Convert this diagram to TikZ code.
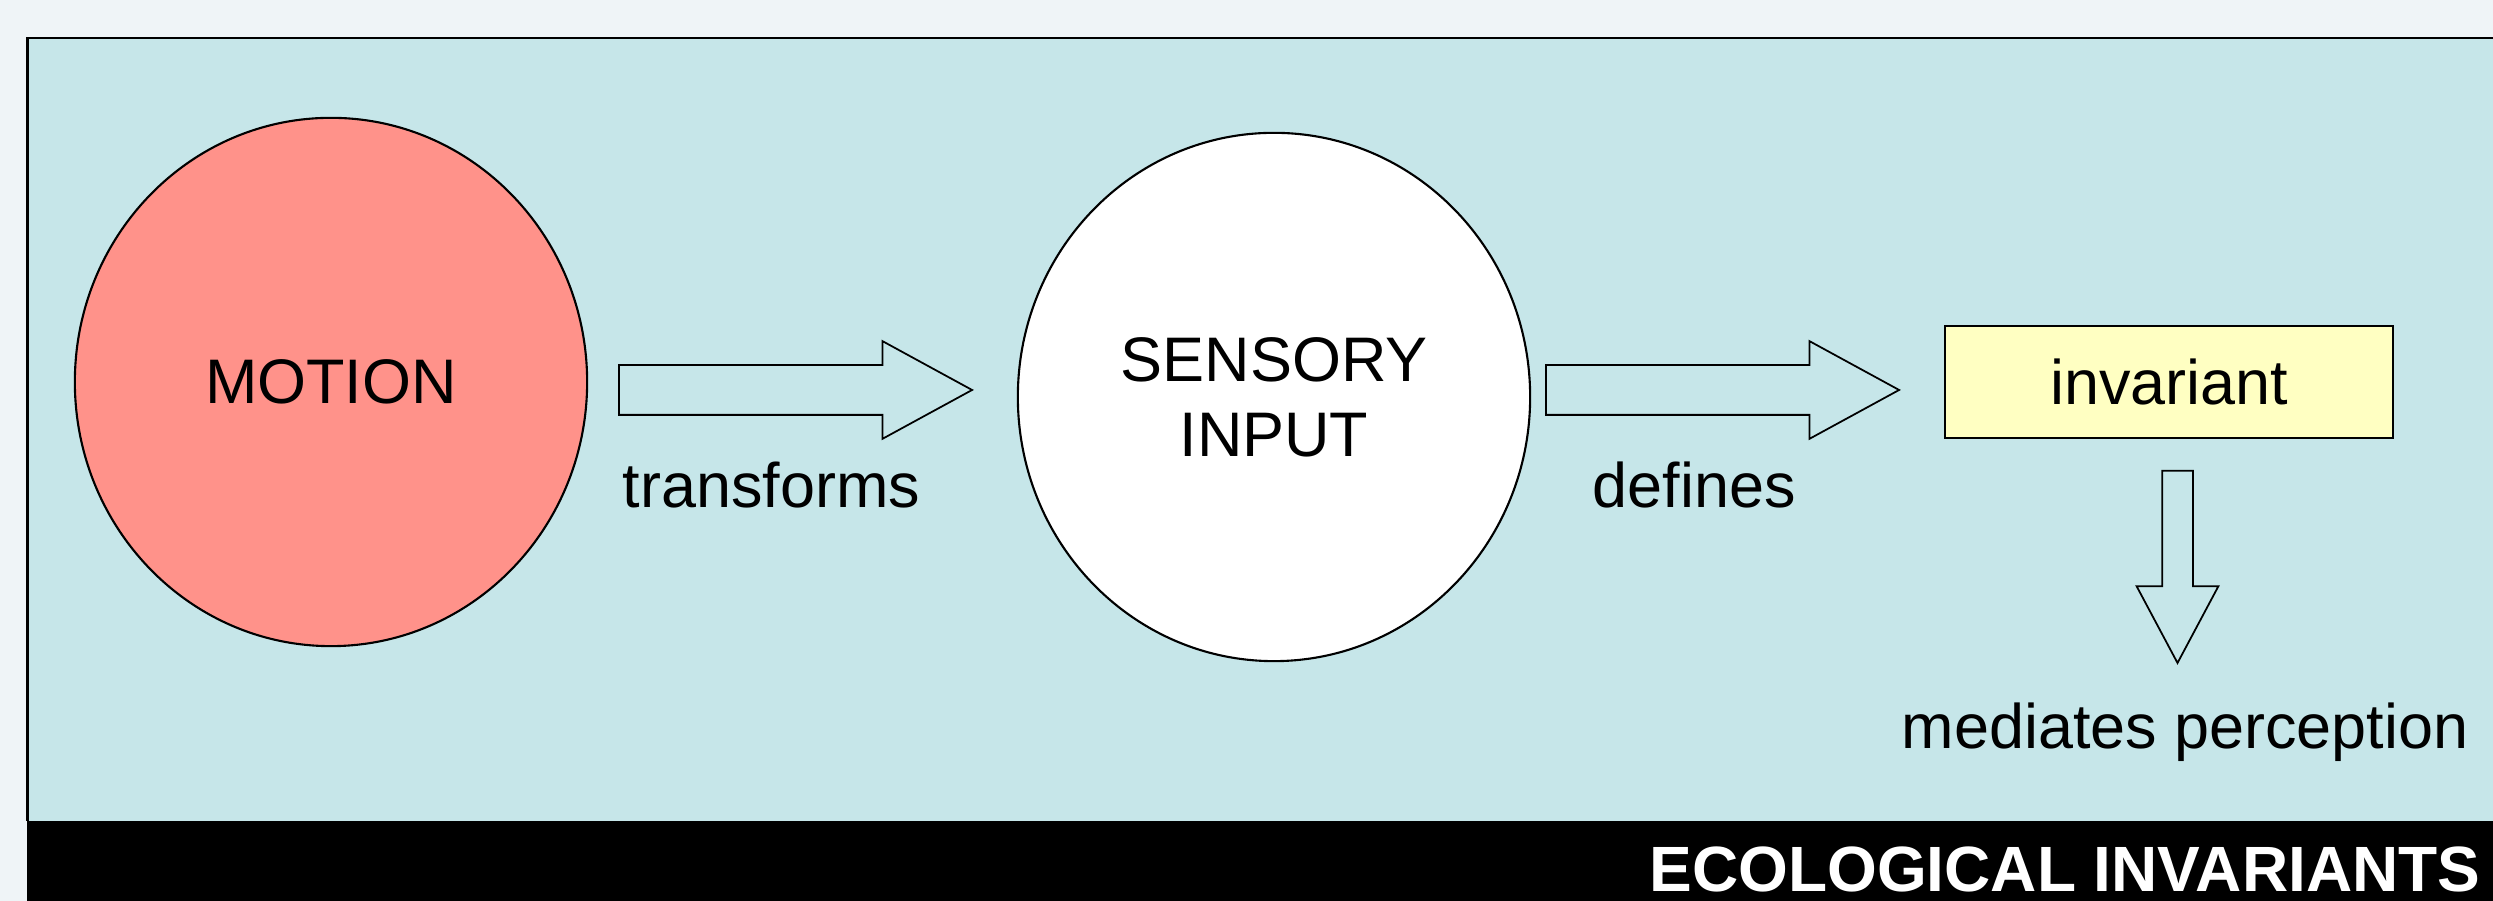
\documentclass[tikz,border=0pt]{standalone}
\usepackage{fontspec}
\setmainfont{Liberation Sans}
\usepackage{tikz}
\usetikzlibrary{positioning}
\usetikzlibrary{shapes.geometric}
\usetikzlibrary{shapes.arrows}
\usepackage{xcolor}

\definecolor{pagebg}{HTML}{EFF4F7}
\definecolor{panel}{HTML}{C6E6E9}
\definecolor{salmon}{HTML}{FF928A}
\definecolor{notepad}{HTML}{FFFFC2}

\tikzset{
    bubble/.style={ellipse, draw, line width=0.6pt, minimum width=5.12cm, minimum height=5.28cm, align=center},
    flowarrow/.style={single arrow, draw, line width=0.5pt, inner xsep=0pt, inner ysep=0.24cm, anchor=tail,
        minimum height=3.53cm, single arrow head extend=0.24cm, single arrow tip angle=57.2},
    caption/.style={anchor=base west, inner sep=0pt}
}

\begin{document}
\begin{tikzpicture}[x=0.01cm, y=0.01cm, font=\fontsize{17.9pt}{21.3pt}\selectfont]
        \useasboundingbox (0,0) rectangle (2493,901);
        \fill[pagebg] (0,0) rectangle (2493,901);
        % panel and title bar
        \fill[panel] (27.5,80) rectangle (2493,863);
        \draw[line width=0.6pt] (27.5,80) |- (2493,863);
        \fill[black] (27,0) rectangle (2493,80);
        \node[anchor=base east, inner sep=0pt, text=white, font=\fontsize{18.2pt}{21pt}\selectfont\bfseries]
            (title) at (2481,9) {ECOLOGICAL INVARIANTS};

        \node[bubble, fill=salmon] (motion) at (331,519) {MOTION};
        \node[bubble, fill=white] (sensory) at (1274,504) {SENSORY\\INPUT};
        \node[draw, line width=0.5pt, fill=notepad, minimum width=4.48cm, minimum height=1.12cm]
            (invariant) at (2169,519) {invariant};

        \node[flowarrow] (arrowA) at (618,511) {};
        \node[flowarrow] (arrowB) at (1545,511) {};
        % pointing down, so the body width comes from the x padding
        \node[flowarrow, shape border rotate=270, inner xsep=0.145cm, inner ysep=0pt, minimum height=1.92cm,
            single arrow head extend=0.255cm, single arrow tip angle=56.1] (arrowC) at (2177.5,431) {};

        \node[caption] (transforms) at (622,393) {transforms};
        \node[caption] (defines) at (1592,393) {defines};
        \node[caption] (mediates) at (1901,152) {mediates perception};
    \end{tikzpicture}
\end{document}
